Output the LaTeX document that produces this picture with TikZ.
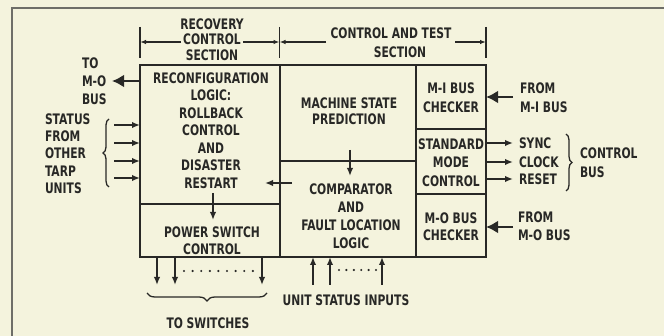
\documentclass[tikz,border=0pt]{standalone}
\usepackage{fontspec}
\setmainfont{DejaVu Sans}[UprightFont=* Bold,FakeStretch=0.74]
\usetikzlibrary{arrows.meta,decorations.pathreplacing,calc}
\definecolor{paper}{RGB}{244,243,221}
\definecolor{ink}{RGB}{40,40,38}
\definecolor{framec}{RGB}{110,110,104}
\begin{document}
\begin{tikzpicture}[x=1pt,y=-1pt,
  every node/.style={text=ink,font=\fontsize{14.5}{18}\selectfont,inner sep=0pt,outer sep=0pt},
  blk/.style={draw=ink,line width=1.7pt,rectangle,anchor=north west,minimum width=#1},
  bigarr/.style={draw=ink,line width=2.8pt,-{Latex[length=12pt,width=13pt]}},
  smarr/.style={draw=ink,line width=1.8pt,-{Latex[length=8pt,width=6.5pt]}},
  dimarr/.style={draw=ink,line width=1.2pt,-{Latex[length=6pt,width=4.5pt]}},
  tick/.style={draw=ink,line width=1.2pt},
  dotrow/.style={draw=ink,line width=2.4pt,line cap=round,dash pattern=on 0pt off 8.6pt},
  brc/.style={draw=ink,line width=1.3pt,decorate,decoration={brace,amplitude=#1}},
  lbl/.style={align=left,anchor=west},
  ctr/.style={align=center}
]
\useasboundingbox[fill=paper] (0,0) rectangle (664,336);
% frame
\draw[framec,line width=1.1pt] (12,336) -- (12,8) -- (664,8);

% blocks
\node[blk=140pt,minimum height=139pt] (rec) at (140,65) {};
\node[blk=140pt,minimum height=53pt]  (pow) at (140,204) {};
\node[blk=136pt,minimum height=96pt]  (msp) at (280,65) {};
\node[blk=136pt,minimum height=96pt]  (cmp) at (280,161) {};
\node[blk=70pt,minimum height=64pt]   (mib) at (416,65) {};
\node[blk=70pt,minimum height=65pt]   (smc) at (416,129) {};
\node[blk=70pt,minimum height=63pt]   (mob) at (416,194) {};

% block texts
\node[ctr,font=\fontsize{14.5}{17.5}\selectfont] (trec) at (211,130.5)
  {RECONFIGURATION\\LOGIC:\\ROLLBACK\\CONTROL\\AND\\DISASTER\\RESTART};
\node[ctr,font=\fontsize{14.5}{17}\selectfont] (tpow) at (212,240.5) {POWER SWITCH\\CONTROL};
\node[ctr,font=\fontsize{14.5}{16.5}\selectfont] (tmsp) at (349,111) {MACHINE STATE\\PREDICTION};
\node[ctr] (tcmp) at (351,216.5) {COMPARATOR\\AND\\FAULT LOCATION\\LOGIC};
\node[ctr,font=\fontsize{14.5}{19}\selectfont] (tmib) at (451,97.5) {M-I BUS\\CHECKER};
\node[ctr,font=\fontsize{14.5}{18.5}\selectfont] (tsmc) at (451,162.5) {STANDARD\\MODE\\CONTROL};
\node[ctr,font=\fontsize{14.5}{17}\selectfont] (tmob) at (451,226.5) {M-O BUS\\CHECKER};

% top section labels and dimension lines
\node[ctr,font=\fontsize{14.5}{15.5}\selectfont] (rcs) at (212,39.5) {RECOVERY\\CONTROL\\SECTION};
\node (cat) at (391,33) {CONTROL AND TEST};
\node (cts) at (400,52) {SECTION};
\coordinate (k1a) at (140,27); \coordinate (k1b) at (140,58);
\coordinate (k2a) at (279.5,27); \coordinate (k2b) at (279.5,58);
\coordinate (k3a) at (486,27); \coordinate (k3b) at (486,58);
\draw[tick] (k1a) -- (k1b);
\draw[tick] (k2a) -- (k2b);
\draw[tick] (k3a) -- (k3b);
\coordinate (d1) at (181,42); \coordinate (d2) at (243,42);
\coordinate (d3) at (326,42); \coordinate (d4) at (455,42);
\draw[dimarr] (d1) -- (k1a |- d1);
\draw[dimarr] (d2) -- (k2a |- d2);
\draw[dimarr] (d3) -- (k2a |- d3);
\draw[dimarr] (d4) -- (k3a |- d4);

% left side
\node[lbl,font=\fontsize{14.5}{18}\selectfont] (tomol) at (82,81) {TO\\M-O\\BUS};
\coordinate (tomo) at (112,81);
\draw[bigarr] (rec.west |- tomo) -- (tomo);
\node[lbl,font=\fontsize{14.5}{17.25}\selectfont] (stl) at (45,153.5) {STATUS\\FROM\\OTHER\\TARP\\UNITS};
\draw[brc=6pt] (109,187) -- (109,119);
\foreach \y [count=\i] in {125,143,161,178}{
  \coordinate (st\i) at (114,\y);
  \draw[smarr] (st\i) -- (rec.west |- st\i);
}

% right side
\node[lbl,font=\fontsize{14.5}{19}\selectfont] (fmil) at (520,97.5) {FROM\\M-I BUS};
\coordinate (frmi) at (513,97);
\draw[bigarr] (frmi) -- (mib.east |- frmi);
\coordinate (sync) at (513,143);
\coordinate (clk) at (513,162);
\coordinate (rst) at (513,179);
\draw[smarr] (smc.east |- sync) -- (sync);
\draw[smarr] (smc.east |- clk) -- (clk);
\draw[smarr] (smc.east |- rst) -- (rst);
\node[lbl] (tsync) at (519,143) {SYNC};
\node[lbl] (tclk) at (519,162) {CLOCK};
\node[lbl] (trst) at (519,179) {RESET};
\draw[brc=6pt] (566,134) -- (566,191);
\node[lbl,font=\fontsize{14.5}{19}\selectfont] (cbus) at (580,162.5) {CONTROL\\BUS};
\node[lbl,font=\fontsize{14.5}{18}\selectfont] (fmol) at (518,226) {FROM\\M-O BUS};
\coordinate (frmo) at (513,227);
\draw[bigarr] (frmo) -- (mob.east |- frmo);

% internal arrows
\draw[smarr] ($(msp.south)+(2,-11)$) -- ($(cmp.north)+(2,15)$);
\draw[smarr] ($(cmp.west)+(12,-26)$) -- ($(rec.east)+(-15,48.5)$);
\draw[smarr] ($(rec.south)+(3,-11)$) -- ($(pow.north)+(3,16)$);

% bottom: to switches
\coordinate (sw1) at (157,285); \coordinate (sw2) at (175,285); \coordinate (sw3) at (262,285);
\draw[smarr] (pow.south -| sw1) -- (sw1);
\draw[smarr] (pow.south -| sw2) -- (sw2);
\draw[smarr] (pow.south -| sw3) -- (sw3);
\coordinate (ds1) at (184,271); \coordinate (ds2) at (254,271);
\draw[dotrow] (ds1) -- (ds2);
\draw[brc=8pt] (267,293) -- (147,293);
\node (tsw) at (208,323) {TO SWITCHES};

% bottom: unit status inputs
\coordinate (us1) at (313,285); \coordinate (us2) at (330,285); \coordinate (us3) at (382,285);
\draw[smarr] (us1) -- (cmp.south -| us1);
\draw[smarr] (us2) -- (cmp.south -| us2);
\draw[smarr] (us3) -- (cmp.south -| us3);
\coordinate (du1) at (339,270); \coordinate (du2) at (376,270);
\draw[dotrow,dash pattern=on 0pt off 7.4pt] (du1) -- (du2);
\node (tusi) at (346,300) {UNIT STATUS INPUTS};
\end{tikzpicture}
\end{document}
